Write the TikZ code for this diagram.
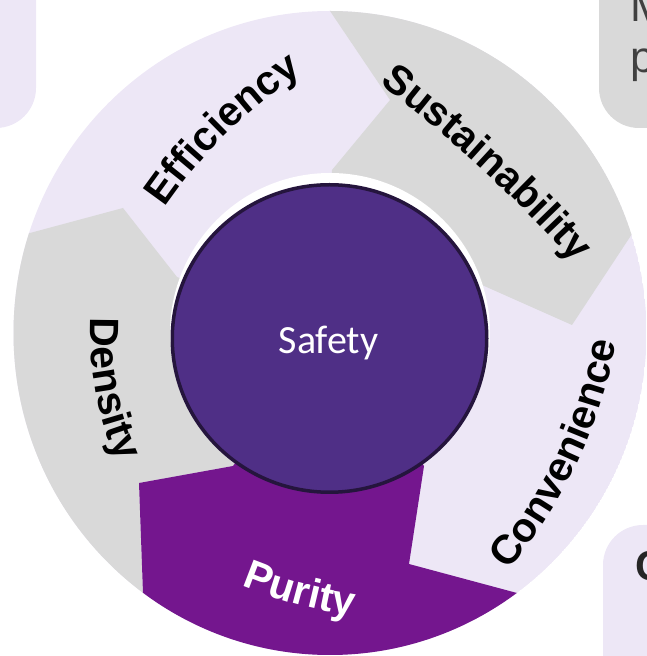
\documentclass[tikz,border=0pt]{standalone}
\usepackage{fontspec}
\setmainfont{Liberation Sans}
\newfontfamily\safetyfont{Carlito}
\usetikzlibrary{calc,decorations.text,shapes.geometric}

\definecolor{lav}{RGB}{237,231,246}
\definecolor{ringgray}{RGB}{217,217,217}
\definecolor{puritypurple}{RGB}{116,22,142}
\definecolor{core}{RGB}{79,47,134}
\definecolor{coreline}{RGB}{37,21,61}
\definecolor{notetext}{RGB}{64,64,64}
\definecolor{notedark}{RGB}{38,38,38}

\newcommand\lbl{\fontsize{41}{48}\selectfont\bfseries}
% curved label: #1,#2 middle of baseline, #3 reading direction there,
% #4 radius of curvature, #5 turn (+1 left / -1 right), #6 format, #7 word
\newcommand\ringlabel[7]{%
  \pgfmathsetmacro\lbA{#3-#5*90-#5*9168/#4}%
  \pgfmathsetmacro\lbB{#3-#5*90+#5*9168/#4}%
  \pgfmathsetmacro\lbC{#3+#5*90}%
  \path[decorate, decoration={text along path, text align=center, text={|#6|#7}}]
    ($(#1,#2)+(\lbC:#4pt)+(\lbA:#4pt)$) arc[start angle=\lbA, end angle=\lbB, radius=#4pt];
}

\tikzset{
  notebox/.style={rounded corners=40pt},
  notefont/.style={font=\fontsize{44}{52}\selectfont, text=notetext, inner sep=0pt, anchor=base west},
}

\begin{document}
\begin{tikzpicture}[x=1pt,y=1pt]
\useasboundingbox (0,0) rectangle (647,656);
\clip (0,0) rectangle (647,656);

% side note boxes
\fill[lav, notebox] (-60,528) rectangle (36,720);
\fill[ringgray, notebox] (599,528) rectangle (720,720);
\fill[lav, notebox] (603,-60) rectangle (720,131);
\node[notefont] (noteM) at (630,634) {M};
\node[notefont] (noteP) at (630,583) {p};
\node[notefont, font=\fontsize{42}{50}\selectfont\bfseries, text=notedark] (noteC) at (635,75) {C};

% outer ring with its five segments
\begin{scope}
  \clip (330,323) ellipse [x radius=316.5, y radius=322];
  \fill[lav] (330,323) ellipse [x radius=316.5, y radius=322];
  % Density
  \fill[ringgray] (-60,408) -- (-25.8,408) -- (123,448) -- (177,379) -- (330,323)
     -- (233,190) -- (139,173) -- (147,-47) -- (-60,-47) -- cycle;
  % Sustainability
  \fill[ringgray] (294,716) -- (294,698.4) -- (390,556) -- (332,486) -- (330,323)
     -- (482,371) -- (572,331) -- (664.8,471.8) -- (720,471.8) -- (720,716) -- cycle;
  % Purity
  \fill[puritypurple] (625,34) -- (409,92) -- (424,190) -- (330,323) -- (233,190)
     -- (139,173) -- (147,-47) -- (147,-104) -- (720,-104) -- (720,34) -- cycle;
\end{scope}
\fill[white] (330,323) circle[radius=160];

% segment labels
\ringlabel{227}{522.7}{44.4}{500}{-1}{\lbl}{Efficiency}
\ringlabel{481.6}{487}{-42.6}{1400}{-1}{\lbl}{Sustainability}
\ringlabel{577}{192.5}{64.6}{500}{1}{\lbl}{Convenience}
\ringlabel{95.6}{264.4}{-79.4}{300}{1}{\lbl}{Density}
\ringlabel{296.1}{51.8}{-15.3}{450}{1}{\color{white}\lbl}{Purity}

% centre
\node[ellipse, minimum width=314.5, minimum height=307.5, inner sep=0pt,
      fill=core, draw=coreline, line width=3.5pt] (safety) at (329.5,317.5) {};
\node[anchor=base, inner sep=0pt, text=white, font=\safetyfont\fontsize{40}{48}\selectfont]
  (safetylabel) at (328.5,302) {Safety};
\end{tikzpicture}
\end{document}
